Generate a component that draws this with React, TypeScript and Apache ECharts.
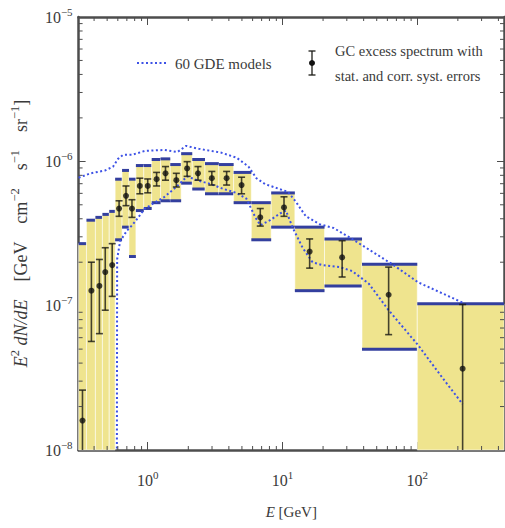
import React, { useEffect, useRef } from 'react';
import * as echarts from 'echarts';

// ---- data ----
const binEdges = [0.307, 0.351, 0.409, 0.461, 0.518, 0.573, 0.645, 0.726, 0.817, 0.935, 1.07, 1.245, 1.47, 1.77, 2.14, 2.66, 3.37, 4.34, 5.87, 8.24, 12.35, 20.5, 38.9, 100, 500];
const energy = [0.328, 0.382, 0.438, 0.484, 0.545, 0.613, 0.69, 0.764, 0.874, 1.0, 1.164, 1.355, 1.63, 1.96, 2.36, 2.99, 3.85, 4.97, 6.84, 10.26, 15.9, 27.7, 61.3, 217];
const flux = [1.6e-8, 1.27e-7, 1.37e-7, 1.71e-7, 1.91e-7, 4.71e-7, 5.77e-7, 4.71e-7, 6.75e-7, 6.75e-7, 7.52e-7, 8.26e-7, 7.4e-7, 8.93e-7, 8.26e-7, 7.64e-7, 7.64e-7, 6.85e-7, 4.09e-7, 4.79e-7, 2.37e-7, 2.16e-7, 1.19e-7, 3.66e-8];
const statHi = [2.6e-8, 2.0e-7, 2.09e-7, 2.52e-7, 2.69e-7, 5.33e-7, 6.75e-7, 5.42e-7, 7.64e-7, 7.55e-7, 8.38e-7, 9.2e-7, 8.26e-7, 9.95e-7, 9.2e-7, 8.51e-7, 8.51e-7, 7.76e-7, 4.71e-7, 5.68e-7, 2.9e-7, 2.82e-7, 1.85e-7, 1.02e-7];
const statLo = [1e-9, 5.65e-8, 6.4e-8, 9.3e-8, 1.16e-7, 4.16e-7, 4.93e-7, 4.09e-7, 5.96e-7, 6.05e-7, 6.75e-7, 7.4e-7, 6.64e-7, 7.87e-7, 7.4e-7, 6.85e-7, 6.85e-7, 5.96e-7, 3.56e-7, 4.16e-7, 1.82e-7, 1.58e-7, 6.3e-8, 1e-9];
const sysHi = [2.69e-7, 3.91e-7, 4.09e-7, 4.29e-7, 4.5e-7, 7.52e-7, 8.65e-7, 7.52e-7, 9.35e-7, 9.35e-7, 1.03e-6, 1.04e-6, 9.5e-7, 1.13e-6, 1.03e-6, 9.64e-7, 9.5e-7, 8.38e-7, 5.17e-7, 6.04e-7, 3.5e-7, 2.9e-7, 1.94e-7, 1.03e-7];
const sysLo = [1e-9, 1e-9, 1e-9, 1e-9, 1e-9, 2.86e-7, 3.5e-7, 2.19e-7, 4.56e-7, 4.71e-7, 5.17e-7, 5.33e-7, 5.33e-7, 7.06e-7, 6.43e-7, 5.96e-7, 5.96e-7, 5.17e-7, 2.86e-7, 3.5e-7, 1.27e-7, 1.37e-7, 4.99e-8, 1e-9];

const upperE = [0.307, 0.376, 0.484, 0.554, 0.602, 0.656, 0.764, 0.951, 1.333, 1.66, 1.93, 2.4, 3.48, 4.56, 5.59, 6.4, 7.44, 10.97, 12.56, 14.9, 18.8, 24.0, 32.8, 64.5, 101.7, 217];
const upperF = [7.7e-7, 8.26e-7, 8.65e-7, 9.2e-7, 1.04e-6, 1.11e-6, 1.11e-6, 1.18e-6, 1.2e-6, 1.16e-6, 1.28e-6, 1.22e-6, 1.15e-6, 1.06e-6, 9.2e-7, 7.64e-7, 6.95e-7, 6.14e-7, 5.25e-7, 4.16e-7, 3.67e-7, 3.45e-7, 2.9e-7, 1.95e-7, 1.45e-7, 1.05e-7];
const lowerE = [0.59, 0.593, 0.624, 0.7, 0.764, 0.82, 0.951, 1.125, 1.333, 1.63, 1.96, 2.32, 2.94, 3.66, 4.56, 5.4, 6.29, 6.84, 8.09, 9.59, 10.6, 11.94, 14.1, 16.7, 19.8, 26.4, 32.8, 43.7, 61.3, 101.7, 155, 217];
const lowerF = [5e-9, 2.1e-7, 2.8e-7, 3.3e-7, 3.6e-7, 3.9e-7, 4.7e-7, 5.17e-7, 5.68e-7, 6.64e-7, 7.87e-7, 7.4e-7, 6.95e-7, 6.43e-7, 6.04e-7, 5.51e-7, 4.09e-7, 3.61e-7, 3.91e-7, 4.35e-7, 4.56e-7, 3.45e-7, 2.52e-7, 2.0e-7, 1.91e-7, 1.85e-7, 1.74e-7, 1.42e-7, 9.3e-8, 5.31e-8, 3.13e-8, 2.08e-8];

const minorX = [0.4, 0.5, 0.6, 0.7, 0.8, 0.9, 2, 3, 4, 5, 6, 7, 8, 9, 20, 30, 40, 50, 60, 70, 80, 90, 200, 300, 400];
const minorY = [2e-8, 3e-8, 4e-8, 5e-8, 6e-8, 7e-8, 8e-8, 9e-8, 2e-7, 3e-7, 4e-7, 5e-7, 6e-7, 7e-7, 8e-7, 9e-7, 2e-6, 3e-6, 4e-6, 5e-6, 6e-6, 7e-6, 8e-6, 9e-6];

const X_MIN = 0.307;
const X_MAX = 440;
const Y_MIN = 1e-8;
const Y_MAX = 1e-5;

const SERIF = 'Liberation Serif';
const TEXT = '#3a3a3a';
const AXIS = '#4d4d4d';
const BOX_FILL = '#efe48e';
const SYS_LINE = '#333f9e';
const MODEL = '#3d52e6';
const ERR = 'rgba(25,25,20,0.8)';

const supRich = {
  sup: { fontSize: 11, fontFamily: SERIF, color: TEXT, verticalAlign: 'top', lineHeight: 11 },
  it: { fontSize: 15, fontFamily: SERIF, color: TEXT, fontStyle: 'italic', lineHeight: 22 },
};
const nameRich = {
  sup: { fontSize: 12.5, fontFamily: SERIF, color: TEXT, verticalAlign: 'top', lineHeight: 13 },
  it: { fontSize: 18, fontFamily: SERIF, color: TEXT, fontStyle: 'italic', lineHeight: 26 },
};

const powLabel = (v: number) => {
  const l = Math.log10(v);
  const e = Math.round(l);
  if (Math.abs(l - e) > 1e-6) return '';
  return '10{sup|' + (e < 0 ? '\u2212' + -e : String(e)) + '}';
};

const renderBox = (params: any, api: any) => {
  const lo = api.coord([api.value(0), api.value(2)]);
  const hi = api.coord([api.value(1), api.value(3)]);
  const cs = params.coordSys;
  const rect = echarts.graphic.clipRectByRect(
    { x: lo[0], y: hi[1], width: hi[0] - lo[0], height: lo[1] - hi[1] },
    { x: cs.x, y: cs.y, width: cs.width, height: cs.height }
  );
  if (!rect) return null;
  const children: any[] = [
    { type: 'rect', shape: rect, style: { fill: BOX_FILL, stroke: 'rgba(255,255,255,0.55)', lineWidth: 1 } },
  ];
  const x1 = rect.x;
  const x2 = rect.x + rect.width;
  if (hi[1] >= cs.y && hi[1] <= cs.y + cs.height) {
    children.push({ type: 'line', shape: { x1, y1: hi[1], x2, y2: hi[1] }, style: { stroke: SYS_LINE, lineWidth: 3 } });
  }
  if (lo[1] <= cs.y + cs.height) {
    children.push({ type: 'line', shape: { x1, y1: lo[1], x2, y2: lo[1] }, style: { stroke: SYS_LINE, lineWidth: 3 } });
  }
  return { type: 'group', children };
};

const renderErr = (params: any, api: any) => {
  const top = api.coord([api.value(0), api.value(2)]);
  const bot = api.coord([api.value(0), api.value(1)]);
  const cs = params.coordSys;
  const yT = Math.max(top[1], cs.y);
  const yB = Math.min(bot[1], cs.y + cs.height);
  const x = top[0];
  const st = { stroke: ERR, lineWidth: 1.6 };
  const ch: any[] = [{ type: 'line', shape: { x1: x, y1: yT, x2: x, y2: yB }, style: st }];
  if (top[1] >= cs.y) ch.push({ type: 'line', shape: { x1: x - 3.5, y1: top[1], x2: x + 3.5, y2: top[1] }, style: st });
  if (bot[1] <= cs.y + cs.height) ch.push({ type: 'line', shape: { x1: x - 3.5, y1: bot[1], x2: x + 3.5, y2: bot[1] }, style: st });
  return { type: 'group', children: ch };
};

const renderMinorX = (params: any, api: any) => {
  const x = api.coord([api.value(0), api.value(1)])[0];
  const cs = params.coordSys;
  const st = { stroke: AXIS, lineWidth: 1 };
  const b = cs.y + cs.height;
  return {
    type: 'group',
    children: [
      { type: 'line', shape: { x1: x, y1: b, x2: x, y2: b - 4 }, style: st },
      { type: 'line', shape: { x1: x, y1: cs.y, x2: x, y2: cs.y + 4 }, style: st },
    ],
  };
};

const renderMinorY = (params: any, api: any) => {
  const y = api.coord([api.value(0), api.value(1)])[1];
  const cs = params.coordSys;
  const st = { stroke: AXIS, lineWidth: 1 };
  const r = cs.x + cs.width;
  return {
    type: 'group',
    children: [
      { type: 'line', shape: { x1: cs.x, y1: y, x2: cs.x + 4, y2: y }, style: st },
      { type: 'line', shape: { x1: r, y1: y, x2: r - 4, y2: y }, style: st },
    ],
  };
};

const baseX = {
  type: 'log',
  logBase: 10,
  min: X_MIN,
  max: X_MAX,
  splitLine: { show: false },
  axisLine: { show: true, lineStyle: { color: AXIS, width: 2.5 } },
  axisTick: { show: true, inside: true, length: 8, lineStyle: { color: AXIS, width: 1 } },
};
const baseY = {
  type: 'log',
  logBase: 10,
  min: Y_MIN,
  max: Y_MAX,
  splitLine: { show: false },
  axisLine: { show: true, lineStyle: { color: AXIS, width: 2.5 } },
  axisTick: { show: true, inside: true, length: 7, lineStyle: { color: AXIS, width: 1 } },
};

export default function App() {
  const ref = useRef<HTMLDivElement>(null);
  useEffect(() => {
    if (!ref.current) return;
    const chart = echarts.init(ref.current, undefined, { renderer: 'svg' });
    const option: any = {
      animation: false,
      backgroundColor: '#ffffff',
      grid: { left: 73, right: 1, top: 17, bottom: 68, containLabel: false },
      xAxis: [
        {
          ...baseX,
          position: 'bottom',
          name: '{it|E} [GeV]',
          nameLocation: 'middle',
          nameGap: 51,
          nameTextStyle: { fontFamily: SERIF, fontSize: 15, color: TEXT, lineHeight: 22, rich: supRich },
          axisLabel: {
            show: true,
            margin: 19,
            fontFamily: SERIF,
            fontSize: 16,
            color: TEXT,
            lineHeight: 22,
            formatter: powLabel,
            rich: supRich,
            showMinLabel: false,
            showMaxLabel: false,
          },
        },
        { ...baseX, position: 'top', axisLabel: { show: false } },
      ],
      yAxis: [
        {
          ...baseY,
          position: 'left',
          name: '{it|E}{sup|2} {it|dN/dE}    [GeV    cm{sup|\u22122}    s{sup|\u22121}    sr{sup|\u22121}]',
          nameLocation: 'middle',
          nameRotate: 90,
          nameGap: 30,
          nameTextStyle: { fontFamily: SERIF, fontSize: 18, color: TEXT, lineHeight: 26, rich: nameRich },
          axisLabel: {
            show: true,
            margin: 6,
            fontFamily: SERIF,
            fontSize: 16,
            color: TEXT,
            lineHeight: 22,
            formatter: powLabel,
            rich: supRich,
          },
        },
        { ...baseY, position: 'right', axisLabel: { show: false } },
      ],
      graphic: [
        { type: 'line', shape: { x1: 137, y1: 63, x2: 166, y2: 63 }, style: { stroke: MODEL, lineWidth: 2, lineDash: [2, 2.5] } },
        { type: 'text', x: 175, y: 64, style: { text: '60 GDE models', font: '15px ' + SERIF, fill: TEXT, textVerticalAlign: 'middle' } },
        { type: 'line', shape: { x1: 312, y1: 51, x2: 312, y2: 75 }, style: { stroke: ERR, lineWidth: 1.6 } },
        { type: 'line', shape: { x1: 308.5, y1: 51, x2: 315.5, y2: 51 }, style: { stroke: ERR, lineWidth: 1.6 } },
        { type: 'line', shape: { x1: 308.5, y1: 75, x2: 315.5, y2: 75 }, style: { stroke: ERR, lineWidth: 1.6 } },
        { type: 'circle', shape: { cx: 312, cy: 63, r: 3 }, style: { fill: '#111' } },
        { type: 'text', x: 335, y: 51, style: { text: 'GC excess spectrum with', font: '14.5px ' + SERIF, fill: TEXT, textVerticalAlign: 'middle' } },
        { type: 'text', x: 335, y: 76, style: { text: 'stat. and corr. syst. errors', font: '14.5px ' + SERIF, fill: TEXT, textVerticalAlign: 'middle' } },
      ],
      series: [
        {
          type: 'custom',
          name: 'sys',
          renderItem: renderBox,
          data: energy.map((_, i) => [binEdges[i], binEdges[i + 1], sysLo[i], sysHi[i]]),
          encode: { x: [0, 1], y: [2, 3] },
          z: 1,
          silent: true,
        },
        {
          type: 'line',
          name: 'upper',
          data: upperE.map((e, i) => [e, upperF[i]]),
          showSymbol: false,
          symbol: 'none',
          clip: true,
          lineStyle: { color: MODEL, width: 2, type: [2, 2.5] },
          z: 3,
          silent: true,
        },
        {
          type: 'line',
          name: 'lower',
          data: lowerE.map((e, i) => [e, lowerF[i]]),
          showSymbol: false,
          symbol: 'none',
          clip: true,
          lineStyle: { color: MODEL, width: 2, type: [2, 2.5] },
          z: 3,
          silent: true,
        },
        {
          type: 'custom',
          name: 'stat',
          renderItem: renderErr,
          data: energy.map((e, i) => [e, statLo[i], statHi[i]]),
          encode: { x: 0, y: [1, 2] },
          z: 4,
          silent: true,
        },
        {
          type: 'scatter',
          name: 'flux',
          data: energy.map((e, i) => [e, flux[i]]),
          symbol: 'circle',
          symbolSize: 6,
          itemStyle: { color: '#111' },
          z: 5,
          silent: true,
        },
        {
          type: 'custom',
          name: 'minorX',
          renderItem: renderMinorX,
          data: minorX.map((v) => [v, 1e-7]),
          encode: { x: 0, y: 1 },
          z: 6,
          silent: true,
        },
        {
          type: 'custom',
          name: 'minorY',
          renderItem: renderMinorY,
          data: minorY.map((v) => [1, v]),
          encode: { x: 0, y: 1 },
          z: 6,
          silent: true,
        },
      ],
    };
    chart.setOption(option);
    return () => chart.dispose();
  }, []);
  return <div ref={ref} style={{ position: 'fixed', left: 0, top: 0, width: 505, height: 528 }} />;
}
